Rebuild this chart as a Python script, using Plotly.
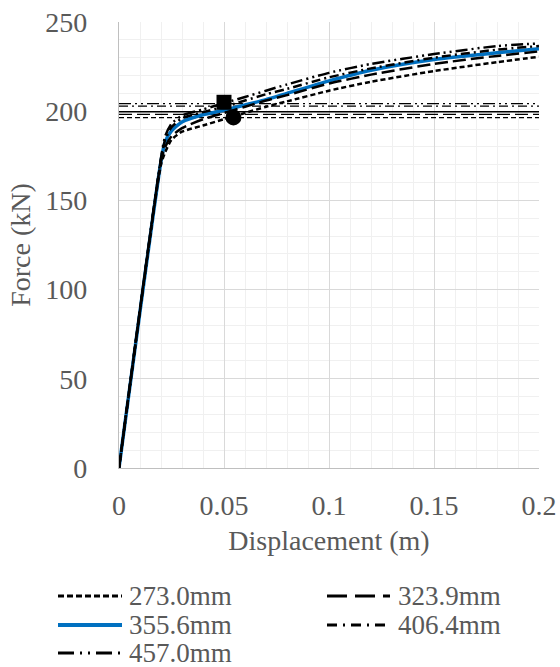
import plotly.graph_objects as go

# ---------------- data ----------------
disp = [0, 0.02, 0.022, 0.025, 0.03, 0.04, 0.05, 0.06, 0.07, 0.08, 0.1, 0.12, 0.15, 0.18, 0.2]

f_273 = [0, 170, 177, 184, 188.5, 192, 195.5, 199, 202.5, 205.5, 211.5, 216.5, 222.5, 227.5, 230.5]
f_323 = [0, 172, 180, 186, 190.5, 195.5, 199, 202.5, 206, 209, 215.5, 220.5, 226.5, 231, 233.5]
f_355 = [0, 172, 183, 189, 194, 198, 200.5, 203.5, 206.5, 210, 217, 223, 229, 232.8, 235]
f_406 = [0, 173, 184, 191, 196, 199.5, 202.5, 206, 209.5, 212.5, 219, 224, 230, 234.5, 236.5]
f_457 = [0, 174, 186, 193, 197.5, 201, 204.5, 208, 211.5, 215, 221.5, 226.5, 232, 236.5, 238]

names = ["273.0mm", "323.9mm", "355.6mm", "406.4mm", "457.0mm"]
yield_force = [196.4, 198.2, 199.7, 202.9, 204.3]
x_span = [0, 0.2]

square_pt = ([0.05], [205])
circle_pt = ([0.0545], [196.5])

# ---------------- styles ----------------
series = [f_273, f_323, f_355, f_406, f_457]
colors = ["black", "black", "#0070C0", "black", "black"]
widths = [2.5, 2.5, 3.5, 2.5, 2.5]
dashes = ["5px,3px", "13px,5px", "solid", "9px,4px,2px,4px", "12px,4px,2px,4px,2px,4px"]
legend_dashes = ["6px,3px", "20px,8px", "solid", "10px,6px,2px,6px", "16px,6px,2px,6px,2px,6px"]
draw_order = [2, 0, 1, 3, 4]

FONT = "Liberation Serif"
GRAY = "#595959"
W, H = 560, 667
ML, MR, MT, MB = 119, 21, 22, 199
PW, PH = W - ML - MR, H - MT - MB

fig = go.Figure()

# horizontal yield lines
for i in range(5):
    fig.add_trace(go.Scatter(
        x=x_span, y=[yield_force[i]] * 2, mode="lines",
        line=dict(color="black", width=1.3, dash=dashes[i]),
        showlegend=False, hoverinfo="skip"))

# curves
for i in draw_order:
    fig.add_trace(go.Scatter(
        x=disp, y=series[i], mode="lines", name=names[i], showlegend=False,
        line=dict(color=colors[i], width=widths[i], dash=dashes[i], shape="spline", smoothing=0.6)))

fig.add_trace(go.Scatter(x=square_pt[0], y=square_pt[1], mode="markers",
                         marker=dict(symbol="square", size=15, color="black"),
                         showlegend=False))
fig.add_trace(go.Scatter(x=circle_pt[0], y=circle_pt[1], mode="markers",
                         marker=dict(symbol="circle", size=16, color="black"),
                         showlegend=False))

# legend (two columns, drawn below the chart)
def px2paper(px, py):
    return (px - ML) / PW, (H - MB - py) / PH

leg_cols = [(58, 122, 127), (327, 390, 396)]
leg_rows = [596, 625, 653]
for i, nm in enumerate(names):
    x0p, x1p, xt = leg_cols[i % 2]
    yp = leg_rows[i // 2]
    ax0, ay = px2paper(x0p, yp)
    ax1, _ = px2paper(x1p, yp)
    axt, _ = px2paper(xt, yp)
    fig.add_shape(type="line", xref="paper", yref="paper", x0=ax0, x1=ax1, y0=ay, y1=ay,
                  line=dict(color=colors[i], width=widths[i] + 0.5, dash=legend_dashes[i]))
    fig.add_annotation(xref="paper", yref="paper", x=axt, y=ay, text=nm, showarrow=False,
                       xanchor="left", yanchor="middle",
                       font=dict(family=FONT, size=27, color=GRAY))

fig.update_layout(
    width=W, height=H,
    margin=dict(l=ML, r=MR, t=MT, b=MB, autoexpand=False),
    paper_bgcolor="white", plot_bgcolor="white",
    font=dict(family=FONT, size=28, color=GRAY),
    showlegend=False,
)

fig.update_xaxes(
    range=[0, 0.2], tickvals=[0, 0.05, 0.1, 0.15, 0.2], ticktext=["0", "0.05", "0.1", "0.15", "0.2"],
    showgrid=True, gridcolor="#d9d9d9", gridwidth=1.3,
    minor=dict(dtick=0.01, showgrid=True, gridcolor="#f0f0f0", gridwidth=1.3),
    showline=True, linecolor="#bfbfbf", linewidth=1.3,
    ticks="outside", ticklen=12, tickcolor="rgba(0,0,0,0)",
    zeroline=False,
    title=dict(text="Displacement (m)", standoff=10, font=dict(family=FONT, size=28, color=GRAY)),
)
fig.update_yaxes(
    range=[0, 250], tickvals=[0, 50, 100, 150, 200, 250],
    showgrid=True, gridcolor="#d9d9d9", gridwidth=1.3,
    minor=dict(dtick=10, showgrid=True, gridcolor="#f0f0f0", gridwidth=1.3),
    showline=True, linecolor="#bfbfbf", linewidth=1.3,
    ticks="outside", ticklen=25, tickcolor="rgba(0,0,0,0)",
    zeroline=False,
    title=dict(text="Force (kN)", standoff=6, font=dict(family=FONT, size=28, color=GRAY)),
)

fig.write_html("out.html")
